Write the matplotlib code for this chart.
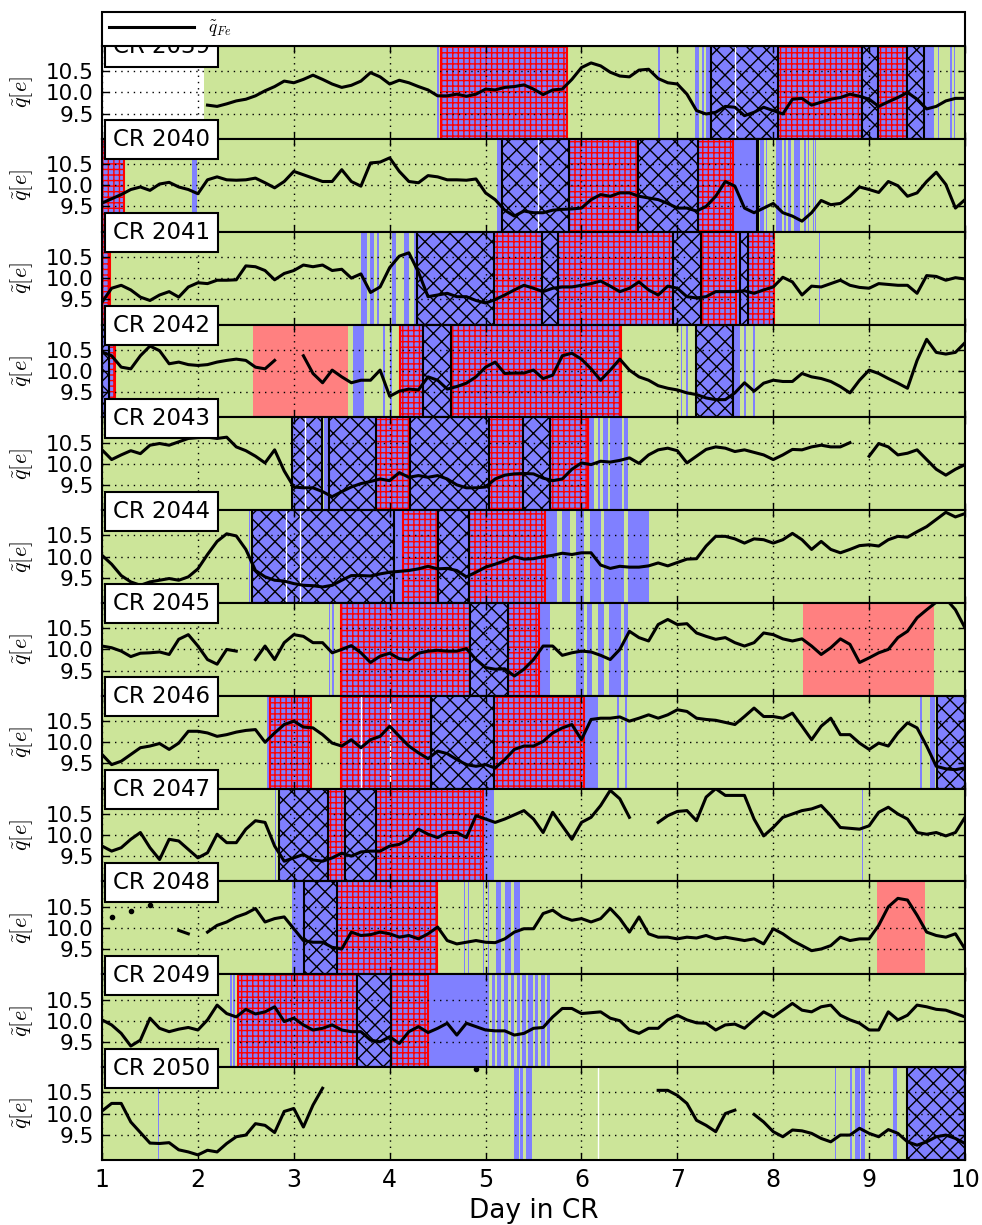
import numpy as np
import matplotlib
matplotlib.use('Agg')
import matplotlib.pyplot as plt

plt.rcParams['mathtext.fontset'] = 'cm'
plt.rcParams['hatch.linewidth'] = 1.0

GREEN = '#cce599'
BLUE = '#8080ff'
SALMON = '#ff8080'

nan = np.nan

cr_numbers = [2039, 2040, 2041, 2042, 2043, 2044, 2045, 2046, 2047, 2048, 2049, 2050]

# sampling grid of the charge state curve, one value every 0.1 day
day = np.round(np.arange(1.0, 10.05, 0.1), 1)

q_2039 = [nan, nan, nan, nan, nan, nan, nan, nan, nan, nan,
          nan, 9.70, 9.67, 9.73, 9.80, 9.84, 9.92, 10.04, 10.14, 10.27,
          10.23, 10.31, 10.41, 10.31, 10.20, 10.12, 10.17, 10.27, 10.47, 10.37,
          10.20, 10.29, 10.23, 10.14, 10.06, 9.92, 9.92, 9.96, 9.91, 9.96,
          10.08, 10.06, 10.12, 10.14, 10.18, 10.08, 9.95, 10.06, 10.08, 10.31,
          10.59, 10.70, 10.63, 10.48, 10.39, 10.37, 10.53, 10.55, 10.33, 10.23,
          10.20, 9.96, 9.57, 9.49, 9.53, 9.67, 9.65, 9.45, 9.53, 9.65,
          9.57, 9.49, 9.84, 9.86, 9.70, 9.77, 9.84, 9.88, 9.96, 9.91,
          9.84, 9.67, 9.78, 9.88, 10.00, 9.84, 9.61, 9.67, 9.80, 9.86,
          9.86]
q_2040 = [9.58, 9.68, 9.78, 9.90, 9.96, 9.88, 10.03, 10.07, 9.96, 9.90,
          9.80, 10.13, 10.20, 10.13, 10.12, 10.13, 10.17, 10.06, 9.94, 10.09,
          10.33, 10.25, 10.17, 10.09, 10.09, 10.37, 10.09, 9.98, 10.53, 10.55,
          10.65, 10.33, 10.09, 10.06, 10.23, 10.20, 10.13, 10.13, 10.12, 10.15,
          9.82, 9.66, 9.41, 9.27, 9.39, 9.35, 9.35, 9.41, 9.43, 9.44,
          9.46, 9.66, 9.78, 9.74, 9.82, 9.82, 9.74, 9.70, 9.66, 9.57,
          9.46, 9.46, 9.39, 9.50, 9.74, 10.09, 9.98, 9.46, 9.35, 9.46,
          9.57, 9.35, 9.27, 9.15, 9.35, 9.64, 9.54, 9.57, 9.74, 9.96,
          9.90, 9.83, 10.09, 9.99, 9.74, 9.82, 10.09, 10.31, 10.02, 9.46,
          9.66]
q_2041 = [9.43, 9.76, 9.83, 9.72, 9.55, 9.47, 9.60, 9.68, 9.55, 9.79,
          9.89, 9.87, 9.95, 9.95, 9.96, 10.29, 10.27, 10.18, 9.96, 10.11,
          10.18, 10.31, 10.27, 10.31, 10.18, 10.21, 10.00, 10.10, 9.66, 9.79,
          10.25, 10.52, 10.60, 10.14, 9.56, 9.60, 9.64, 9.56, 9.56, 9.47,
          9.41, 9.49, 9.60, 9.72, 9.83, 9.76, 9.68, 9.76, 9.79, 9.79,
          9.83, 9.87, 9.93, 9.81, 9.68, 9.76, 9.91, 9.72, 9.60, 9.81,
          9.76, 9.56, 9.53, 9.56, 9.68, 9.68, 9.68, 9.70, 9.64, 9.72,
          9.79, 10.02, 9.91, 9.60, 9.81, 9.79, 9.87, 9.95, 9.83, 9.78,
          9.76, 9.87, 9.85, 9.83, 9.83, 9.64, 10.06, 10.04, 9.95, 10.01,
          9.98]
q_2042 = [10.45, 10.36, 10.09, 10.05, 10.36, 10.59, 10.48, 10.17, 10.21, 10.15,
          10.13, 10.15, 10.21, 10.25, 10.28, 10.25, 10.09, 10.05, 10.25, nan,
          nan, 10.36, 9.94, 9.72, 10.02, 9.86, 9.72, 9.78, 9.78, 10.02,
          9.40, 9.52, 9.57, 9.55, 9.86, 9.78, 9.57, 9.63, 9.71, 9.86,
          10.09, 10.21, 9.94, 9.95, 9.95, 10.02, 9.82, 9.90, 10.36, 10.42,
          10.28, 10.05, 9.78, 10.02, 10.28, 10.02, 9.86, 9.78, 9.65, 9.59,
          9.55, 9.48, 9.44, 9.36, 9.32, 9.32, 9.48, 9.72, 9.52, 9.71,
          9.78, 9.75, 9.75, 9.94, 9.86, 9.82, 9.75, 9.63, 9.48, 9.78,
          10.02, 9.94, 9.82, 9.71, 9.59, 10.25, 10.75, 10.44, 10.40, 10.44,
          10.67]
q_2043 = [10.33, 10.10, 10.21, 10.31, 10.24, 10.44, 10.48, 10.44, 10.52, 10.60,
          10.62, 10.63, 10.60, 10.63, 10.40, 10.31, 10.18, 10.02, 10.33, 9.83,
          9.45, 9.43, 9.43, 9.34, 9.22, 9.34, 9.45, 9.53, 9.58, 9.64,
          9.60, 9.79, 9.68, 9.72, 9.68, 9.72, 9.64, 9.50, 9.43, 9.43,
          9.45, 9.64, 9.73, 9.76, 9.77, 9.76, 9.66, 9.60, 9.64, 9.87,
          10.02, 9.98, 10.06, 10.04, 10.08, 10.14, 10.01, 10.21, 10.33, 10.37,
          10.31, 10.02, 10.18, 10.34, 10.40, 10.37, 10.29, 10.33, 10.27, 10.21,
          10.10, 10.21, 10.34, 10.33, 10.40, 10.44, 10.40, 10.40, 10.50, nan,
          10.18, 10.48, 10.40, 10.21, 10.25, 10.33, 10.10, 9.87, 9.73, 9.87,
          9.98]
q_2044 = [10.03, 9.82, 9.55, 9.40, 9.32, 9.40, 9.44, 9.48, 9.44, 9.52,
          9.71, 10.05, 10.36, 10.54, 10.49, 10.17, 9.67, 9.52, 9.44, 9.42,
          9.36, 9.32, 9.31, 9.28, 9.32, 9.44, 9.55, 9.55, 9.54, 9.59,
          9.63, 9.65, 9.67, 9.71, 9.77, 9.71, 9.72, 9.67, 9.52, 9.63,
          9.75, 9.82, 9.90, 10.00, 9.94, 9.95, 10.00, 10.03, 10.08, 10.05,
          10.09, 10.09, 9.80, 9.72, 9.77, 9.75, 9.75, 9.78, 9.85, 9.78,
          9.86, 9.94, 9.95, 10.25, 10.48, 10.48, 10.42, 10.32, 10.42, 10.40,
          10.32, 10.40, 10.55, 10.40, 10.17, 10.36, 10.17, 10.09, 10.17, 10.26,
          10.28, 10.25, 10.40, 10.48, 10.46, 10.59, 10.71, 10.88, 11.05, 10.94,
          11.02]
q_2045 = [10.08, 10.04, 9.96, 9.83, 9.91, 9.92, 9.94, 9.88, 10.24, 10.35,
          10.08, 9.76, 9.65, 10.00, 9.96, nan, 9.76, 10.08, 9.76, 10.16,
          10.35, 10.31, 10.16, 10.16, 9.92, 10.00, 10.09, 9.92, 9.69, 9.84,
          9.91, 9.78, 9.75, 9.91, 9.96, 9.98, 9.96, 9.96, 10.02, 9.76,
          9.57, 9.53, 9.54, 9.37, 9.53, 9.76, 10.08, 10.08, 9.86, 9.92,
          9.96, 9.94, 9.86, 9.76, 10.00, 10.43, 10.28, 10.20, 10.59, 10.71,
          10.59, 10.61, 10.39, 10.31, 10.24, 10.28, 10.16, 10.08, 10.16, 10.39,
          10.35, 10.25, 10.20, 10.25, 10.08, 9.88, 10.04, 10.25, 10.12, 9.69,
          9.80, 9.92, 10.00, 10.28, 10.43, 10.75, 10.94, 11.12, 11.20, 10.94,
          10.51]
q_2046 = [9.71, 9.47, 9.55, 9.71, 9.87, 9.91, 9.97, 9.83, 9.98, 10.26,
          10.26, 10.22, 10.14, 10.18, 10.24, 10.28, 10.30, 10.00, 10.22, 10.42,
          10.50, 10.36, 10.34, 10.18, 9.98, 9.91, 10.06, 9.87, 10.06, 10.14,
          10.38, 10.14, 9.91, 9.75, 9.61, 9.79, 9.73, 9.59, 9.47, 9.43,
          9.47, 9.39, 9.59, 9.83, 9.91, 9.91, 10.02, 10.22, 10.34, 10.42,
          10.06, 10.54, 10.57, 10.57, 10.60, 10.50, 10.57, 10.65, 10.57, 10.65,
          10.77, 10.73, 10.57, 10.54, 10.52, 10.47, 10.42, 10.61, 10.81, 10.61,
          10.61, 10.57, 10.69, 10.38, 10.06, 10.38, 10.57, 10.18, 10.18, 9.98,
          9.83, 9.98, 9.91, 10.22, 10.46, 10.34, 9.91, 9.43, 9.37, 9.35,
          9.39]
q_2047 = [9.74, 9.62, 9.70, 9.90, 10.06, 9.70, 9.42, 9.90, 9.86, 9.66,
          9.46, 9.58, 10.02, 9.82, 9.82, 10.14, 10.34, 10.30, 9.74, 9.38,
          9.46, 9.54, 9.41, 9.38, 9.46, 9.57, 9.50, 9.60, 9.62, 9.62,
          9.74, 9.78, 9.90, 10.14, 10.02, 9.94, 10.06, 10.06, 9.94, 10.46,
          10.38, 10.30, 10.38, 10.48, 10.58, 10.38, 10.06, 10.54, 10.22, 9.90,
          10.30, 10.42, 10.70, 11.06, 10.86, 10.42, nan, nan, 10.30, 10.46,
          10.56, 10.58, 10.34, 10.90, 11.10, 10.94, 10.94, 10.94, 10.38, 9.98,
          10.18, 10.42, 10.50, 10.58, 10.62, 10.70, 10.46, 10.18, 10.16, 10.14,
          10.22, 10.54, 10.66, 10.50, 10.38, 10.06, 10.02, 10.06, 9.98, 10.06,
          10.42]
q_2048 = [nan, 10.26, nan, 10.40, nan, 10.54, nan, nan, 9.94, 9.86,
          nan, 9.90, 10.06, 10.14, 10.26, 10.34, 10.46, 10.14, 10.22, 10.26,
          9.98, 9.70, 9.66, 9.66, 9.54, 9.50, 9.90, 9.82, 9.84, 9.90,
          9.86, 9.78, 9.82, 9.74, 9.86, 10.02, 9.70, 9.62, 9.66, 9.70,
          9.66, 9.65, 9.74, 9.90, 9.98, 9.98, 10.34, 10.42, 10.26, 10.18,
          10.22, 10.14, 10.22, 10.46, 10.22, 9.90, 10.26, 9.86, 9.78, 9.78,
          9.74, 9.78, 9.76, 9.82, 9.74, 9.78, 9.74, 9.70, 9.74, 9.62,
          9.98, 9.86, 9.70, 9.58, 9.46, 9.50, 9.58, 9.78, 9.70, 9.74,
          9.74, 10.06, 10.50, 10.70, 10.66, 10.30, 9.90, 9.82, 9.78, 9.86,
          9.50]
q_2049 = [10.02, 9.90, 9.70, 9.40, 9.54, 10.06, 9.82, 9.74, 9.80, 9.84,
          9.78, 10.02, 10.37, 10.17, 10.09, 10.27, 10.16, 10.21, 10.33, 9.98,
          10.06, 9.90, 9.78, 9.82, 9.90, 9.78, 9.74, 9.74, 9.54, 9.50,
          9.62, 9.46, 9.74, 9.86, 9.72, 9.82, 9.94, 9.66, 9.94, 9.86,
          9.78, 9.76, 9.76, 9.66, 9.70, 9.82, 9.84, 10.09, 10.29, 10.29,
          10.17, 10.19, 10.21, 10.06, 10.00, 9.78, 9.70, 9.82, 9.82, 10.02,
          10.13, 10.02, 9.95, 9.94, 9.78, 9.90, 9.92, 9.82, 10.02, 10.21,
          10.09, 10.25, 10.41, 10.25, 10.21, 10.33, 10.37, 10.13, 10.02, 9.94,
          9.78, 9.78, 10.21, 10.02, 10.13, 10.37, 10.33, 10.27, 10.25, 10.17,
          10.09]
q_2050 = [10.06, 10.24, 10.24, 9.80, 9.55, 9.30, 9.29, 9.31, 9.14, 9.09,
          9.02, 9.13, 9.09, 9.29, 9.45, 9.49, 9.76, 9.72, 9.55, 10.05,
          10.12, 9.68, 10.20, 10.60, nan, nan, nan, nan, nan, nan,
          nan, nan, nan, nan, nan, nan, nan, nan, nan, 11.05,
          nan, nan, nan, nan, nan, nan, nan, nan, nan, nan,
          nan, nan, nan, nan, nan, nan, nan, nan, 10.55, 10.55,
          10.43, 10.24, 9.84, 9.72, 9.57, 10.00, 10.08, nan, 9.98, 9.80,
          9.57, 9.45, 9.61, 9.59, 9.53, 9.41, 9.33, 9.49, 9.49, 9.65,
          9.53, 9.45, 9.62, 9.53, 9.33, 9.25, 9.33, 9.45, 9.49, 9.41,
          9.29]

q_series = [q_2039, q_2040, q_2041, q_2042, q_2043, q_2044,
            q_2045, q_2046, q_2047, q_2048, q_2049, q_2050]

# intervals in days: plain solar wind, ICME-like, and the two hatched classes
green_spans = [[(2.06, 10.0)]] + [[(1.0, 10.0)] for _ in range(11)]

salmon_spans = [[], [], [], [(2.57, 3.56)], [], [], [(8.31, 9.68)],
                [], [], [(9.08, 9.58)], [], []]

cross_spans = [
    [(7.35, 8.05), (8.93, 9.09), (9.40, 9.57)],
    [(5.17, 5.87), (6.59, 7.22), (7.835, 7.845)],
    [(4.29, 5.09), (5.59, 5.76), (6.95, 7.25), (7.65, 7.74)],
    [(1.0, 1.07), (4.35, 4.64), (7.19, 7.58)],
    [(2.98, 3.29), (3.37, 3.86), (4.21, 5.04), (5.39, 5.67)],
    [(2.56, 4.05), (4.50, 4.83)],
    [(4.84, 5.23)],
    [(4.43, 5.09), (9.71, 10.0)],
    [(2.85, 3.36), (3.53, 3.86)],
    [(3.11, 3.45)],
    [(3.66, 4.01)],
    [(9.40, 10.0)],
]

grid_spans = [
    [(4.54, 5.85), (8.05, 8.93), (9.09, 9.40)],
    [(1.0, 1.23), (5.87, 6.59), (7.22, 7.58)],
    [(1.0, 1.08), (5.09, 5.59), (5.76, 6.95), (7.25, 7.61), (7.74, 8.01)],
    [(1.07, 1.14), (4.11, 4.35), (4.64, 6.41)],
    [(3.86, 4.21), (5.04, 5.39), (5.67, 6.07)],
    [(4.14, 4.50), (4.83, 5.62)],
    [(3.49, 4.84), (5.23, 5.56)],
    [(2.75, 3.18), (3.49, 4.43), (5.09, 6.03)],
    [(3.36, 3.53), (3.86, 4.97)],
    [(3.45, 4.49)],
    [(2.42, 3.66), (4.01, 4.40)],
    [],
]

blue_spans = [
    [(4.49, 4.51), (4.525, 4.54), (6.80, 6.815), (7.18, 7.23), (7.255, 7.28),
     (7.30, 7.35), (9.57, 9.68), (9.715, 9.73), (9.845, 9.86), (9.885, 9.90)],
    [(1.94, 1.99), (5.12, 5.17), (7.58, 7.835), (7.86, 7.90), (7.92, 7.94),
     (8.03, 8.09), (8.11, 8.13), (8.15, 8.19), (8.22, 8.28), (8.32, 8.34),
     (8.36, 8.37), (8.41, 8.42), (8.44, 8.45)],
    [(3.70, 3.76), (3.79, 3.84), (3.87, 3.89), (4.02, 4.07), (4.15, 4.20),
     (4.25, 4.29), (7.61, 7.65), (8.475, 8.49)],
    [(3.62, 3.73), (3.935, 3.95), (4.005, 4.02), (7.035, 7.05), (7.095, 7.11),
     (7.58, 7.65), (7.70, 7.72), (7.79, 7.81)],
    [(3.31, 3.37), (6.07, 6.13), (6.17, 6.19), (6.22, 6.28), (6.30, 6.42),
     (6.44, 6.49)],
    [(2.53, 2.545), (4.05, 4.14), (5.62, 5.74), (5.80, 5.88), (5.94, 6.03),
     (6.09, 6.20), (6.23, 6.44), (6.49, 6.70)],
    [(3.365, 3.38), (3.40, 3.415), (5.56, 5.67), (5.94, 6.03), (6.06, 6.11),
     (6.17, 6.23), (6.29, 6.41), (6.44, 6.49)],
    [(2.72, 2.75), (6.03, 6.17), (6.375, 6.39), (6.455, 6.47), (9.535, 9.55),
     (9.63, 9.69)],
    [(2.80, 2.815), (4.97, 5.09), (8.925, 8.94)],
    [(2.98, 3.11), (4.775, 4.785), (4.815, 4.825), (4.975, 4.985), (5.025, 5.035),
     (5.11, 5.16), (5.20, 5.27), (5.30, 5.36)],
    [(2.33, 2.36), (2.37, 2.39), (4.40, 5.04), (5.07, 5.10), (5.12, 5.16),
     (5.19, 5.23), (5.26, 5.30), (5.33, 5.36), (5.38, 5.42), (5.44, 5.49),
     (5.52, 5.55), (5.58, 5.62), (5.64, 5.67)],
    [(1.585, 1.595), (5.30, 5.35), (5.36, 5.39), (5.42, 5.48), (8.645, 8.655),
     (8.80, 8.82), (8.85, 8.90), (8.92, 8.96), (9.25, 9.29)],
]

# short data gaps that show up as white slits
gap_lines = [[7.60], [5.55], [], [], [3.12], [2.92, 3.06], [], [3.70, 4.00],
             [], [], [], [6.17]]

fig, axes = plt.subplots(12, 1, sharex=True, figsize=(9.82, 12.25), dpi=100)
fig.subplots_adjust(left=0.1039, right=0.9827, top=0.9624, bottom=0.0531,
                    hspace=0)

for i, ax in enumerate(axes):
    for a, b in green_spans[i]:
        ax.axvspan(a, b, facecolor=GREEN, edgecolor='none', zorder=0)
    for a, b in salmon_spans[i]:
        ax.axvspan(a, b, facecolor=SALMON, edgecolor='none', zorder=0.5)
    for a, b in blue_spans[i]:
        ax.axvspan(a, b, facecolor=BLUE, edgecolor='none', zorder=0.5)
    for a, b in grid_spans[i]:
        ax.axvspan(a, b, facecolor=BLUE, edgecolor='red', hatch='+++',
                   lw=1.5, zorder=0.8)
    for a, b in cross_spans[i]:
        ax.axvspan(a, b, facecolor=BLUE, edgecolor='black', hatch='xx',
                   lw=1.5, zorder=0.8)
    for x in gap_lines[i]:
        ax.axvline(x, color='white', lw=1.0, zorder=0.9)

    q = np.array(q_series[i], dtype=float)
    ax.plot(day, q, color='k', lw=2.2, zorder=3,
            label=r'$\tilde{q}_{Fe}$' if i == 0 else None)
    # lone samples between gaps would not show up as a line
    ok = np.isfinite(q)
    prev_ok = np.r_[False, ok[:-1]]
    next_ok = np.r_[ok[1:], False]
    lone = ok & ~prev_ok & ~next_ok
    ax.plot(day[lone], q[lone], 'o', color='k', ms=3, zorder=3)

    ax.set_xlim(1, 10)
    ax.set_ylim(8.9, 11.1)
    ax.set_yticks([9.5, 10.0, 10.5])
    ax.set_yticklabels(['9.5', '10.0', '10.5'])
    ax.set_xticks(range(1, 11))
    ax.grid(True, color='k', linestyle=(0, (1, 3.5)), lw=1.0)
    ax.tick_params(direction='in', top=True, right=True, length=5, width=1)
    ax.tick_params(axis='y', labelsize=15.5, pad=6)
    ax.tick_params(axis='x', labelsize=17, pad=6)
    for sp in ax.spines.values():
        sp.set_linewidth(1.5)
    ax.set_ylabel(r'$\tilde{q}[e]$', fontsize=16, labelpad=8)
    ax.text(0.0127, 0.99, f'CR {cr_numbers[i]}', transform=ax.transAxes,
            fontsize=16.5, ha='left', va='center', zorder=4,
            bbox=dict(boxstyle='square,pad=0.35', facecolor='white',
                      edgecolor='black', lw=1.5))

axes[-1].set_xlabel('Day in CR', fontsize=19)

leg = axes[0].legend(loc='lower left', bbox_to_anchor=(0, 1.0, 1, 0.35),
                     mode='expand', borderaxespad=0, fontsize=12.5,
                     handlelength=4.9, fancybox=False, framealpha=1)
leg.get_frame().set_edgecolor('black')
leg.get_frame().set_linewidth(1.5)

fig.savefig('out.png', dpi=100)
